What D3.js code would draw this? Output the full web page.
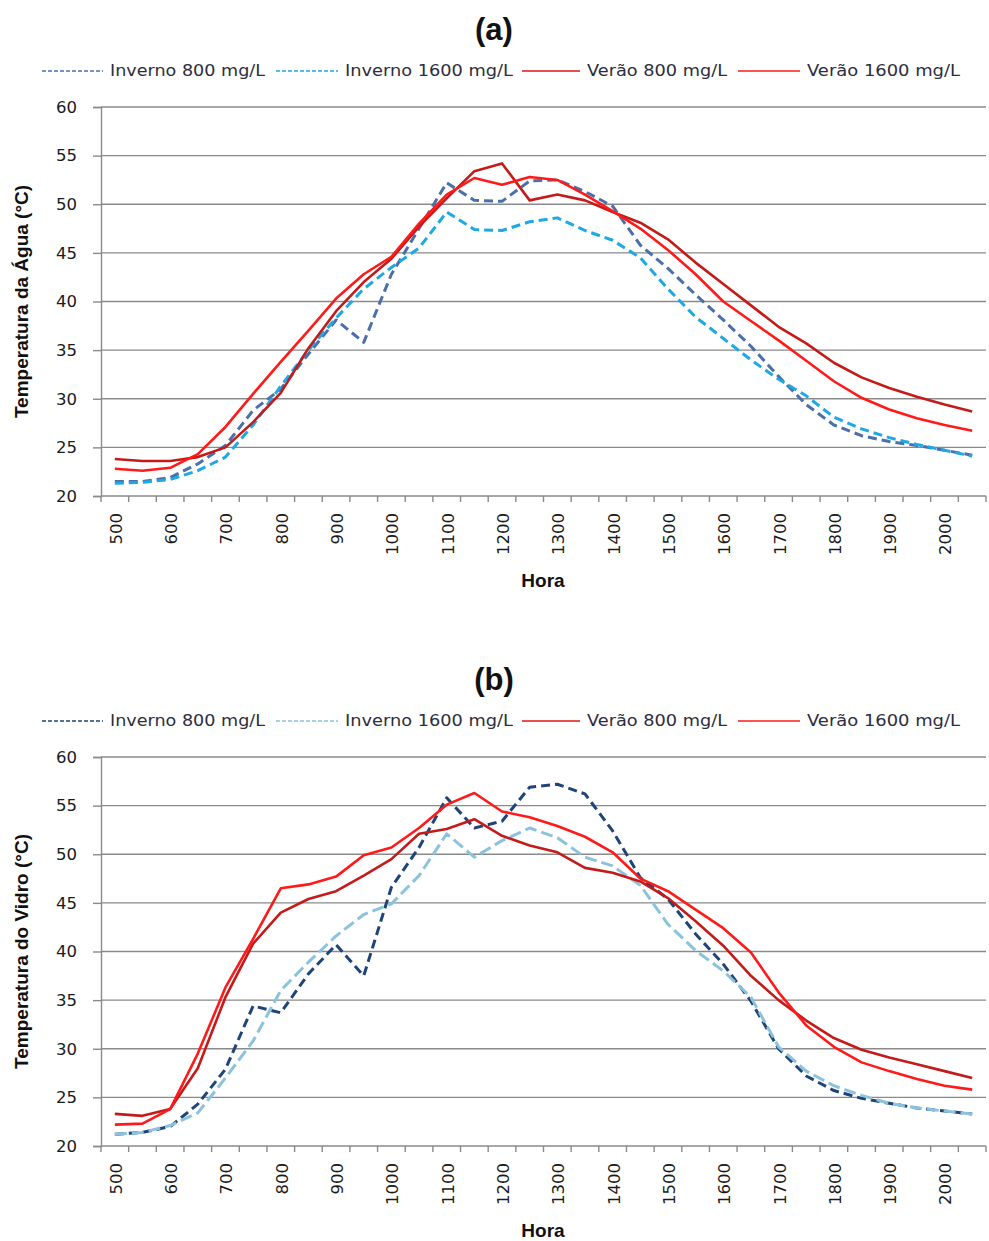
<!DOCTYPE html>
<html>
<head>
<meta charset="utf-8">
<script src="https://cdn.jsdelivr.net/npm/d3@7"></script>
<style>
  html, body { margin: 0; padding: 0; background: #fff; }
  svg { display: block; }
</style>
</head>
<body>
<svg id="chart" width="989" height="1241"></svg>
<script>
// Half-hourly readings, 05:00 to 20:30
const hours = [500, 530, 600, 630, 700, 730, 800, 830, 900, 930, 1000, 1030, 1100, 1130, 1200, 1230,
               1300, 1330, 1400, 1430, 1500, 1530, 1600, 1630, 1700, 1730, 1800, 1830, 1900, 1930, 2000, 2030];
const yTicks = [20, 25, 30, 35, 40, 45, 50, 55, 60];
const seriesNames = ["Inverno 800 mg/L", "Inverno 1600 mg/L", "Verão 800 mg/L", "Verão 1600 mg/L"];

// (a) Water temperature (°C)
const aguaInverno800 = [21.5, 21.5, 21.9, 23.3, 25.2, 28.8, 31.0, 34.6, 38.1, 35.8, 42.8, 47.5, 52.2, 50.4, 50.3, 52.4,
                        52.5, 51.3, 49.8, 45.8, 43.4, 40.7, 38.1, 35.4, 32.3, 29.4, 27.3, 26.2, 25.6, 25.2, 24.7, 24.2];
const aguaInverno1600 = [21.3, 21.4, 21.7, 22.6, 24.0, 27.3, 31.3, 35.0, 38.3, 41.3, 43.5, 45.5, 49.2, 47.4, 47.3, 48.2,
                         48.6, 47.3, 46.3, 44.5, 41.3, 38.4, 36.2, 34.0, 32.0, 30.3, 28.1, 26.9, 26.0, 25.3, 24.7, 24.1];
const aguaVerao800 = [23.8, 23.6, 23.6, 24.0, 25.0, 27.6, 30.6, 35.2, 39.0, 42.0, 44.4, 47.7, 50.6, 53.4, 54.2, 50.4,
                      51.0, 50.4, 49.2, 48.1, 46.4, 44.0, 41.8, 39.6, 37.4, 35.7, 33.7, 32.2, 31.1, 30.2, 29.4, 28.7];
const aguaVerao1600 = [22.8, 22.6, 22.9, 24.3, 27.1, 30.5, 33.8, 37.0, 40.3, 42.8, 44.6, 48.0, 51.0, 52.7, 52.0, 52.8,
                       52.5, 51.0, 49.3, 47.5, 45.3, 42.8, 40.0, 38.0, 36.0, 33.9, 31.8, 30.1, 28.9, 28.0, 27.3, 26.7];

// (b) Glass temperature (°C)
const vidroInverno800 = [21.2, 21.4, 22.0, 24.3, 27.9, 34.4, 33.7, 37.7, 40.7, 37.5, 46.6, 50.7, 55.8, 52.7, 53.4, 56.9,
                         57.2, 56.2, 52.4, 47.6, 45.4, 41.8, 38.7, 34.9, 30.0, 27.2, 25.7, 24.9, 24.4, 23.9, 23.6, 23.3];
const vidroInverno1600 = [21.2, 21.4, 22.1, 23.4, 27.0, 30.8, 36.0, 38.9, 41.6, 43.8, 44.9, 47.8, 52.1, 49.7, 51.4, 52.7,
                          51.7, 49.7, 48.8, 46.8, 42.8, 40.1, 38.0, 35.3, 30.2, 27.7, 26.2, 25.2, 24.4, 23.9, 23.6, 23.3];
const vidroVerao800 = [23.3, 23.1, 23.8, 28.0, 35.3, 40.8, 44.0, 45.4, 46.2, 47.8, 49.5, 52.1, 52.6, 53.6, 51.9, 50.9,
                       50.2, 48.6, 48.1, 47.2, 45.5, 43.1, 40.6, 37.5, 35.0, 32.9, 31.1, 29.9, 29.1, 28.4, 27.7, 27.0];
const vidroVerao1600 = [22.2, 22.3, 23.8, 29.5, 36.3, 41.3, 46.5, 46.9, 47.7, 49.9, 50.7, 52.7, 55.1, 56.3, 54.4, 53.8,
                        52.9, 51.8, 50.2, 47.5, 46.2, 44.3, 42.4, 39.9, 35.8, 32.4, 30.2, 28.6, 27.7, 26.9, 26.2, 25.8];

const panels = [
  {
    title: "(a)", yTitle: "Temperatura da Água (°C)", top: 0,
    series: [aguaInverno800, aguaInverno1600, aguaVerao800, aguaVerao1600],
    colors: ["#4a6fa9", "#1ea8e4", "#c41a1a", "#ff1a1a"],
    legendColors: ["#4a6fa9", "#1ea8e4", "#e01414", "#ff1a1a"]
  },
  {
    title: "(b)", yTitle: "Temperatura do Vidro (°C)", top: 650,
    series: [vidroInverno800, vidroInverno1600, vidroVerao800, vidroVerao1600],
    colors: ["#1f4478", "#8cc3dc", "#c41a1a", "#ff1a1a"],
    legendColors: ["#1f4478", "#8cc3dc", "#e01414", "#ff1a1a"]
  }
];

const dashed = [true, true, false, false];
const svg = d3.select("#chart");
const plotLeft = 101, plotRight = 986, plotH = 389;
const numFont = "'DejaVu Sans', Verdana, sans-serif";
const narrowBold = "'Liberation Sans Narrow', 'Arial Narrow', 'Liberation Sans', sans-serif";

const x = d3.scaleBand().domain(hours).range([plotLeft, plotRight]);

panels.forEach(p => {
  const g = svg.append("g").attr("transform", `translate(0,${p.top})`);
  const plotTop = 107, plotBottom = plotTop + plotH;
  const y = d3.scaleLinear().domain([20, 60]).range([plotBottom, plotTop]);

  // Title
  g.append("text")
    .attr("x", 494).attr("y", 40)
    .attr("text-anchor", "middle")
    .attr("font-family", "'Liberation Sans', Arial, sans-serif")
    .attr("font-weight", "bold").attr("font-size", 31)
    .attr("fill", "#111")
    .text(p.title);

  // Legend
  const legendX = [42, 276, 522, 738];
  const legendLen = [61, 62, 58, 62];
  const legendTextW = [155, 168, 140, 153];
  seriesNames.forEach((name, i) => {
    const lg = g.append("g");
    lg.append("line")
      .attr("x1", legendX[i]).attr("x2", legendX[i] + legendLen[i])
      .attr("y1", 71).attr("y2", 71)
      .attr("stroke", p.legendColors[i]).attr("stroke-width", 1.6)
      .attr("stroke-dasharray", dashed[i] ? "4,2" : null);
    lg.append("text")
      .attr("x", legendX[i] + legendLen[i] + 7).attr("y", 76)
      .attr("font-family", numFont).attr("font-size", 15)
      .attr("textLength", legendTextW[i])
      .attr("lengthAdjust", "spacingAndGlyphs")
      .attr("fill", "#2d2d3d")
      .text(name);
  });

  // Horizontal gridlines
  g.append("g")
    .selectAll("line")
    .data(yTicks)
    .join("line")
    .attr("x1", plotLeft).attr("x2", plotRight)
    .attr("y1", d => y(d)).attr("y2", d => y(d))
    .attr("stroke", "#8a8a8a").attr("stroke-width", 1.4);

  // Y axis
  const yAxis = g.append("g")
    .attr("transform", `translate(${plotLeft},0)`)
    .call(d3.axisLeft(y).tickValues(yTicks).tickSize(8).tickPadding(16));
  yAxis.select(".domain").attr("stroke", "#8a8a8a").attr("stroke-width", 1.4);
  yAxis.selectAll(".tick line").attr("stroke", "#8a8a8a").attr("stroke-width", 1.4);
  yAxis.selectAll(".tick text")
    .attr("font-family", numFont).attr("font-size", 16.5).attr("fill", "#1a1a1a");

  // X axis: ticks on category boundaries, labels on every other hour
  const boundaries = hours.map(h => x(h)).concat([plotRight]);
  g.append("g")
    .selectAll("line")
    .data(boundaries)
    .join("line")
    .attr("x1", d => d).attr("x2", d => d)
    .attr("y1", plotBottom).attr("y2", plotBottom + 6)
    .attr("stroke", "#8a8a8a").attr("stroke-width", 1.4);

  g.append("g")
    .selectAll("text")
    .data(hours.filter((h, i) => i % 2 === 0))
    .join("text")
    .attr("transform", d => `translate(${x(d) + x.bandwidth() / 2 + 1},${plotBottom + 17}) rotate(-90)`)
    .attr("text-anchor", "end")
    .attr("dy", "0.36em")
    .attr("font-family", numFont).attr("font-size", 16.5).attr("fill", "#1a1a1a")
    .text(d => d);

  // Axis titles
  g.append("text")
    .attr("transform", `translate(28,${(plotTop + plotBottom) / 2}) rotate(-90)`)
    .attr("text-anchor", "middle")
    .attr("font-family", narrowBold).attr("font-weight", "bold").attr("font-size", 19)
    .attr("fill", "#111")
    .text(p.yTitle);

  g.append("text")
    .attr("x", 543).attr("y", 587)
    .attr("text-anchor", "middle")
    .attr("font-family", narrowBold).attr("font-weight", "bold").attr("font-size", 19)
    .attr("fill", "#111")
    .text("Hora");

  // Series lines
  const line = d3.line()
    .x((d, i) => x(hours[i]) + x.bandwidth() / 2)
    .y(d => y(d));

  p.series.forEach((vals, i) => {
    g.append("path")
      .datum(vals)
      .attr("d", line)
      .attr("fill", "none")
      .attr("stroke", p.colors[i])
      .attr("stroke-width", dashed[i] ? 3 : 2.6)
      .attr("stroke-linejoin", "round")
      .attr("stroke-dasharray", dashed[i] ? (i === 1 && p.top > 0 ? "12,5" : "9,5") : null);
  });
});
</script>
</body>
</html>
